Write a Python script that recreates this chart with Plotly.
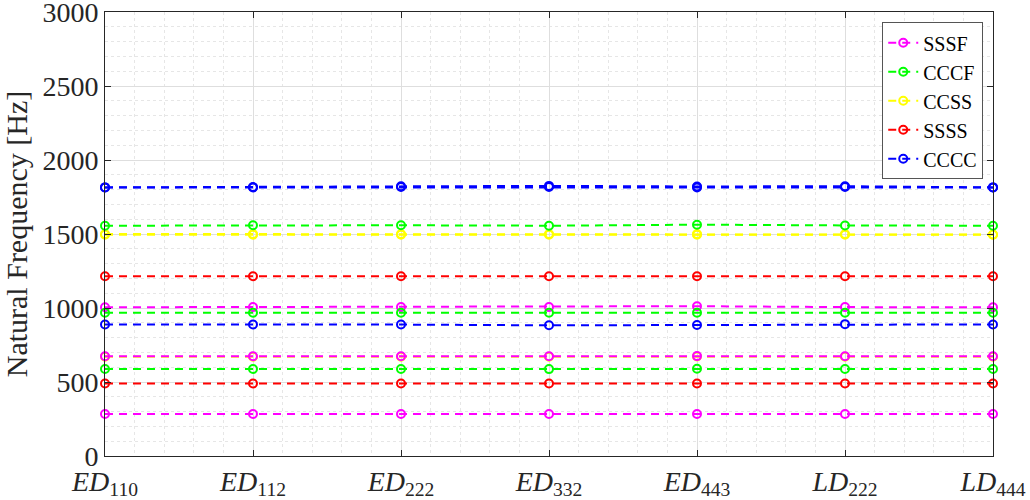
import plotly.graph_objects as go

categories = ["ED110", "ED112", "ED222", "ED332", "ED443", "LD222", "LD444"]
tick_labels = ["<i>ED</i><sub>110</sub>", "<i>ED</i><sub>112</sub>", "<i>ED</i><sub>222</sub>",
               "<i>ED</i><sub>332</sub>", "<i>ED</i><sub>443</sub>", "<i>LD</i><sub>222</sub>",
               "<i>LD</i><sub>444</sub>"]

# SSSF modes
sssf_1 = [284, 284, 284, 284, 284, 284, 284]
sssf_2 = [674, 674, 674, 674, 675, 674, 674]
sssf_3 = [1005, 1006, 1006, 1006, 1012, 1006, 1005]
# CCCF modes
cccf_1 = [588, 588, 588, 587, 589, 588, 588]
cccf_2 = [968, 968, 968, 968, 968, 968, 968]
cccf_3 = [1556, 1559, 1559, 1556, 1563, 1558, 1556]
# CCSS modes
ccss_1 = [671, 671, 671, 671, 672, 671, 671]
ccss_2 = [1495, 1495, 1495, 1495, 1495, 1495, 1495]
ccss_3 = [1500, 1500, 1500, 1500, 1500, 1500, 1496]
# SSSS modes
ssss_1 = [490, 490, 490, 490, 490, 490, 490]
ssss_2 = [1215, 1215, 1215, 1215, 1215, 1215, 1215]
# CCCC modes
cccc_1 = [889, 889, 888, 883, 885, 891, 889]
cccc_2 = [1815, 1815, 1817, 1817, 1815, 1817, 1815]
cccc_3 = [1815, 1817, 1823, 1825, 1821, 1823, 1815]

series = [
    ("CCSS", "#FFFF00", [ccss_1, ccss_2, ccss_3], 3),
    ("SSSF", "#FF00FF", [sssf_1, sssf_2, sssf_3], 1),
    ("CCCF", "#00FF00", [cccf_1, cccf_2, cccf_3], 2),
    ("SSSS", "#FF0000", [ssss_1, ssss_2], 4),
    ("CCCC", "#0000FF", [cccc_1, cccc_2, cccc_3], 5),
]

x = list(range(len(categories)))
fig = go.Figure()
for name, color, modes, rank in series:
    for i, vals in enumerate(modes):
        fig.add_trace(go.Scatter(
            x=x, y=vals, mode="lines+markers", name=name,
            legendgroup=name, showlegend=(i == 0), legendrank=rank,
            line=dict(color=color, width=2, dash="8px,6px"),
            marker=dict(symbol="circle-open", size=8, color=color, line=dict(width=2, color=color)),
            cliponaxis=False, hoverinfo="skip",
        ))

axis_col = "#262626"
font_family = "Liberation Serif, DejaVu Serif, serif"

fig.update_layout(
    width=1030, height=500,
    margin=dict(l=105, r=37, t=12, b=44),
    paper_bgcolor="white", plot_bgcolor="white",
    font=dict(family=font_family, color=axis_col, size=28),
    legend=dict(
        x=0.989, y=0.977, xanchor="right", yanchor="top",
        bgcolor="white", bordercolor="#555555", borderwidth=1,
        font=dict(family=font_family, size=20, color="black"),
        tracegroupgap=0, itemwidth=30,
    ),
    showlegend=True,
)

fig.update_xaxes(
    range=[0, 6], tickmode="array", tickvals=x, ticktext=tick_labels,
    showline=True, linecolor=axis_col, linewidth=1, mirror="ticks",
    ticks="inside", ticklen=6, tickcolor=axis_col,
    showgrid=True, gridcolor="#dedede", gridwidth=1,
    minor=dict(dtick=0.2, tick0=0, showgrid=True, gridcolor="#e6e6e6", griddash="dot", ticks=""),
    zeroline=False, tickfont=dict(size=28, family=font_family),
    ticklabeloverflow="allow", automargin=False,
)
fig.update_yaxes(
    range=[0, 3000], dtick=500, tick0=0,
    showline=True, linecolor=axis_col, linewidth=1, mirror="ticks",
    ticks="inside", ticklen=6, tickcolor=axis_col,
    showgrid=True, gridcolor="#dedede", gridwidth=1,
    minor=dict(dtick=100, tick0=0, showgrid=True, gridcolor="#e6e6e6", griddash="dot", ticks=""),
    zeroline=False, tickfont=dict(size=28, family=font_family),
    ticklabeloverflow="allow", automargin=False,
    title=dict(text="Natural Frequency [Hz]", font=dict(size=30, family=font_family), standoff=6),
)

fig.write_html("out.html")
